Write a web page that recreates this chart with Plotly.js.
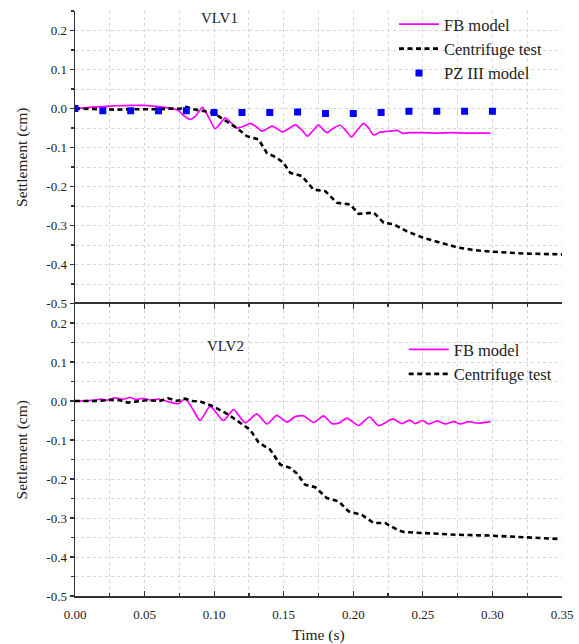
<!DOCTYPE html>
<html>
<head>
<meta charset="utf-8">
<script src="https://cdn.plot.ly/plotly-3.0.1.min.js"></script>
<style>html,body{margin:0;padding:0;background:#fff;}#chart{width:579px;height:644px;}</style>
</head>
<body>
<div id="chart"></div>
<script>
// ---------- VLV1 (top panel) ----------
const fb1_t = [0,0.01,0.02,0.03,0.04,0.05,0.06,0.068,0.074,0.078,0.0827,0.087,0.0916,0.096,0.1007,0.104,0.108,0.112,0.1163,0.121,0.126,0.130,0.1343,0.138,0.1415,0.145,0.1487,0.153,0.1583,0.163,0.1670,0.171,0.175,0.178,0.181,0.186,0.1906,0.195,0.1986,0.203,0.2074,0.211,0.2146,0.219,0.223,0.226,0.229,0.232,0.234,0.236,0.24,0.25,0.26,0.27,0.28,0.29,0.2986];
const fb1_v = [0,0.003,0.005,0.007,0.008,0.008,0.005,0.001,-0.004,-0.018,-0.028,-0.018,0.003,-0.022,-0.052,-0.040,-0.024,-0.036,-0.050,-0.046,-0.038,-0.046,-0.058,-0.052,-0.045,-0.051,-0.060,-0.053,-0.042,-0.055,-0.071,-0.057,-0.042,-0.053,-0.062,-0.050,-0.043,-0.058,-0.073,-0.055,-0.038,-0.050,-0.068,-0.061,-0.059,-0.058,-0.057,-0.056,-0.061,-0.064,-0.062,-0.062,-0.063,-0.062,-0.063,-0.063,-0.063];

const ct1_t = [0,0.01,0.02,0.03,0.04,0.05,0.06,0.0683,0.075,0.0803,0.085,0.09,0.0995,0.1067,0.1163,0.1235,0.1319,0.1379,0.145,0.15,0.1547,0.163,0.1715,0.1799,0.1883,0.1978,0.2038,0.2147,0.2218,0.229,0.2386,0.2506,0.2626,0.2746,0.2866,0.2986,0.3225,0.35];
const ct1_v = [0,-0.001,-0.002,-0.003,-0.002,-0.002,-0.002,0,-0.001,0.004,-0.002,-0.005,-0.011,-0.028,-0.050,-0.071,-0.079,-0.114,-0.126,-0.140,-0.165,-0.173,-0.208,-0.212,-0.242,-0.246,-0.270,-0.267,-0.293,-0.297,-0.315,-0.332,-0.345,-0.356,-0.363,-0.367,-0.372,-0.374];

const pz1_t = [0,0.02,0.04,0.06,0.08,0.10,0.12,0.14,0.16,0.18,0.20,0.22,0.24,0.26,0.28,0.30];
const pz1_v = [0,-0.006,-0.006,-0.006,-0.006,-0.010,-0.010,-0.010,-0.009,-0.013,-0.013,-0.010,-0.007,-0.007,-0.007,-0.007];

// ---------- VLV2 (bottom panel) ----------
const fb2_t = [0,0.01,0.0156,0.0185,0.023,0.0288,0.034,0.0396,0.044,0.049,0.055,0.06,0.066,0.0743,0.0791,0.0845,0.0899,0.0971,0.1067,0.1139,0.1223,0.1307,0.1379,0.145,0.1523,0.1583,0.1643,0.1715,0.1787,0.1847,0.19,0.1954,0.2038,0.2117,0.2182,0.2285,0.235,0.2405,0.2446,0.2499,0.2542,0.2602,0.2662,0.272,0.277,0.283,0.289,0.2986];
const fb2_v = [0,0.001,0.003,0.005,0.002,0.008,0.004,0.009,0.004,0.007,0.002,0.005,-0.001,-0.007,0.006,-0.020,-0.050,-0.014,-0.050,-0.022,-0.056,-0.033,-0.059,-0.037,-0.054,-0.040,-0.038,-0.055,-0.038,-0.058,-0.056,-0.044,-0.063,-0.041,-0.063,-0.046,-0.058,-0.049,-0.058,-0.050,-0.059,-0.051,-0.059,-0.053,-0.059,-0.053,-0.057,-0.053];

const ct2_t = [0,0.017,0.025,0.031,0.038,0.0435,0.0515,0.061,0.0669,0.0732,0.0791,0.0845,0.0899,0.0995,0.1103,0.1187,0.1259,0.1319,0.1403,0.1475,0.155,0.1595,0.1655,0.1727,0.181,0.1894,0.1966,0.2062,0.2147,0.223,0.2314,0.2362,0.2506,0.2746,0.2986,0.3225,0.349];
const ct2_v = [0,0,0.003,0.003,-0.004,-0.001,0.002,0,0.007,0,0.006,0,-0.001,-0.014,-0.035,-0.056,-0.074,-0.106,-0.125,-0.163,-0.172,-0.186,-0.215,-0.221,-0.249,-0.257,-0.283,-0.292,-0.313,-0.313,-0.330,-0.336,-0.339,-0.343,-0.345,-0.349,-0.354];

// ---------- labels ----------
const yTickVals = [-0.5,-0.4,-0.3,-0.2,-0.1,0,0.1,0.2];
const yTickText = ['-0.5','-0.4','-0.3','-0.2','-0.1','0.0','0.1','0.2'];
const seriesNames = ['FB model','Centrifuge test','PZ III model'];
const panelLabels = ['VLV1','VLV2'];

const FONT = '"Liberation Serif", "Times New Roman", serif';
const MAGENTA = '#ff00ff';
const gridStyle = {gridcolor:'#d6d6d6', griddash:'dot', gridwidth:1};

const traces = [
  {x:fb1_t, y:fb1_v, name:seriesNames[0], type:'scatter', mode:'lines', xaxis:'x2', yaxis:'y2', legend:'legend',
   line:{color:MAGENTA, width:1.7, shape:'spline', smoothing:0.6}},
  {x:ct1_t, y:ct1_v, name:seriesNames[1], type:'scatter', mode:'lines', xaxis:'x2', yaxis:'y2', legend:'legend',
   line:{color:'#000', width:2.6, dash:'5px,3.5px'}},
  {x:pz1_t, y:pz1_v, name:seriesNames[2], type:'scatter', mode:'markers', xaxis:'x2', yaxis:'y2', legend:'legend',
   marker:{color:'#0000ff', symbol:'square', size:7}},
  {x:fb2_t, y:fb2_v, name:seriesNames[0], type:'scatter', mode:'lines', xaxis:'x', yaxis:'y', legend:'legend2',
   line:{color:MAGENTA, width:1.7, shape:'spline', smoothing:0.6}},
  {x:ct2_t, y:ct2_v, name:seriesNames[1], type:'scatter', mode:'lines', xaxis:'x', yaxis:'y', legend:'legend2',
   line:{color:'#000', width:2.6, dash:'5px,3.5px'}}
];

const yBase = {
  range:[-0.5,0.25], tickvals:yTickVals, ticktext:yTickText, ticks:'outside', ticklen:4, tickwidth:1.2,
  tickcolor:'#333', showline:true, linecolor:'#333', linewidth:1.5, zeroline:false,
  showgrid:true, ...gridStyle,
  minor:{dtick:0.05, ticks:'outside', ticklen:3, tickcolor:'#333', showgrid:true, ...gridStyle},
  tickfont:{family:FONT, size:13, color:'#222'},
  title:{text:'Settlement (cm)', font:{family:FONT, size:15.5, color:'#222'}, standoff:15},
  fixedrange:true
};

const layout = {
  width:579, height:644,
  margin:{l:75, r:17, t:11, b:48, autoexpand:false},
  paper_bgcolor:'#fff', plot_bgcolor:'#fff',
  showlegend:true,
  font:{family:FONT, color:'#222'},
  xaxis:{
    domain:[0,1], anchor:'y', range:[0,0.35], dtick:0.05, tickformat:'.2f',
    ticks:'inside', ticklen:5, tickwidth:1.2, tickcolor:'#333',
    showline:true, linecolor:'#333', linewidth:1.5, mirror:'ticks', zeroline:false,
    showgrid:true, ...gridStyle,
    minor:{dtick:0.025, ticks:'inside', ticklen:3, tickcolor:'#333', showgrid:true, ...gridStyle},
    tickfont:{family:FONT, size:13, color:'#222'}, ticklabelstandoff:6,
    title:{text:'Time (s)', font:{family:FONT, size:15.5, color:'#222'}, standoff:8}
  },
  xaxis2:{
    domain:[0,1], anchor:'y2', range:[0,0.35], dtick:0.05, showticklabels:false, ticks:'',
    showline:false, zeroline:false,
    showgrid:true, ...gridStyle,
    minor:{dtick:0.025, showgrid:true, ...gridStyle}
  },
  yaxis:{...yBase, domain:[0,0.5], anchor:'x'},
  yaxis2:{...yBase, domain:[0.5,1], anchor:'x2'},
  legend:{x:0.655, y:1.007, xanchor:'left', yanchor:'top', bgcolor:'rgba(0,0,0,0)', borderwidth:0,
    font:{family:FONT, size:16.5, color:'#222'}, itemwidth:40, tracegroupgap:0},
  legend2:{x:0.675, y:0.451, xanchor:'left', yanchor:'top', bgcolor:'rgba(0,0,0,0)', borderwidth:0,
    font:{family:FONT, size:16.5, color:'#222'}, itemwidth:40, tracegroupgap:0},
  annotations:[
    {text:panelLabels[0], xref:'x2', yref:'y2', x:0.1036, y:0.232, showarrow:false,
     font:{family:FONT, size:15, color:'#222'}},
    {text:panelLabels[1], xref:'x', yref:'y', x:0.108, y:0.14, showarrow:false,
     font:{family:FONT, size:15, color:'#222'}}
  ]
};

Plotly.newPlot('chart', traces, layout, {displayModeBar:false, staticPlot:true});
</script>
</body>
</html>
